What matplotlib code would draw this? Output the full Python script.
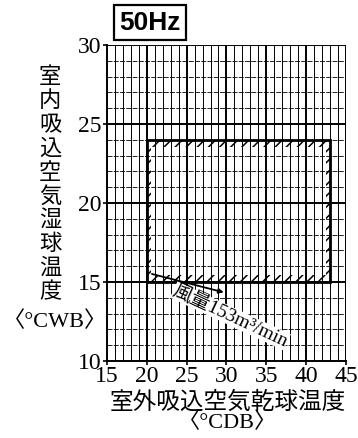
import matplotlib.pyplot as plt
from matplotlib.patches import Rectangle
import numpy as np

# operating range, 50Hz
x_range = [20, 43]      # outdoor intake dry bulb (CDB)
y_range = [15, 24]      # indoor intake wet bulb (CWB)
x_ticks = [15, 20, 25, 30, 35, 40, 45]
y_ticks = [10, 15, 20, 25, 30]
flow_line_x = [20.3, 30.0]
flow_line_y = [15.55, 14.3]
flow_label = "風量153m³/min"
freq_label = "50Hz"

serif = ['Liberation Serif', 'Noto Sans CJK JP']
cjk = ['Noto Sans CJK JP', 'Liberation Serif']
plt.rcParams['hatch.linewidth'] = 1.1

fig = plt.figure(figsize=(3.58, 4.38), dpi=100)
ax = fig.add_axes([0.299, 0.176, 0.667, 0.721])
ax.set_xlim(15, 45)
ax.set_ylim(10, 30)

# grid: thin every 1, thick every 5
for v in np.arange(16, 45):
    if v % 5:
        ax.axvline(v, color='black', lw=0.7, zorder=1)
for v in np.arange(11, 30):
    if v % 5:
        ax.axhline(v, color='black', lw=0.6, ls=(0, (6, 1.5)), zorder=1)
for v in x_ticks[1:]:
    ax.axvline(v, color='black', lw=1.4, zorder=2)
for v in y_ticks[1:]:
    ax.axhline(v, color='black', lw=1.4, zorder=2)

# hatched band along the inside of the range
x0, x1 = x_range
y0, y1 = y_range
bw, bh = 0.5, 0.45
bands = [(x0, y1 - bh, x1 - x0, bh), (x0, y0, x1 - x0, bh),
         (x0, y0, bw, y1 - y0), (x1 - bw, y0, bw, y1 - y0)]
for bx, by, w, h in bands:
    ax.add_patch(Rectangle((bx, by), w, h, fill=False, hatch='///',
                           lw=0, edgecolor='black', zorder=3))
ax.add_patch(Rectangle((x0, y0), x1 - x0, y1 - y0, fill=False,
                       lw=2.0, edgecolor='black', zorder=4))

# air flow note
ax.annotate('', xy=(flow_line_x[1], flow_line_y[1]), xytext=(flow_line_x[0], flow_line_y[0]),
            arrowprops=dict(arrowstyle='-|>', color='black', lw=1.3, mutation_scale=7),
            zorder=5)
ax.text(30.5, 12.85, flow_label, rotation=-25, rotation_mode='anchor',
        ha='center', va='center', fontsize=14, family=serif, zorder=6,
        bbox=dict(facecolor='white', edgecolor='none', pad=0))

for s in ['top', 'right']:
    ax.spines[s].set_visible(False)
for s in ['left', 'bottom']:
    ax.spines[s].set_linewidth(1.4)

ax.set_xticks(x_ticks)
ax.set_yticks(y_ticks)
ax.tick_params(length=3, width=1.2, pad=1, labelsize=17)
for lab in ax.get_xticklabels() + ax.get_yticklabels():
    lab.set_family(serif)

fig.text(0.419, 0.948, freq_label, ha='center', va='center', fontsize=19,
         fontweight='bold', family='Liberation Sans',
         bbox=dict(facecolor='white', edgecolor='black', lw=1.6,
                   boxstyle='square,pad=0.2'))

fig.text(0.14, 0.58, "\n".join("室内吸込空気湿球温度"), ha='center', va='center',
         fontsize=16, family=cjk, linespacing=1.05)
fig.text(0.155, 0.265, "〈°CWB〉", ha='center', va='center', fontsize=16, family=serif)
fig.text(0.637, 0.082, "室外吸込空気乾球温度", ha='center', va='center',
         fontsize=17, family=cjk)
fig.text(0.637, 0.035, "〈°CDB〉", ha='center', va='center', fontsize=16, family=serif)

fig.savefig('out.png', dpi=100)
